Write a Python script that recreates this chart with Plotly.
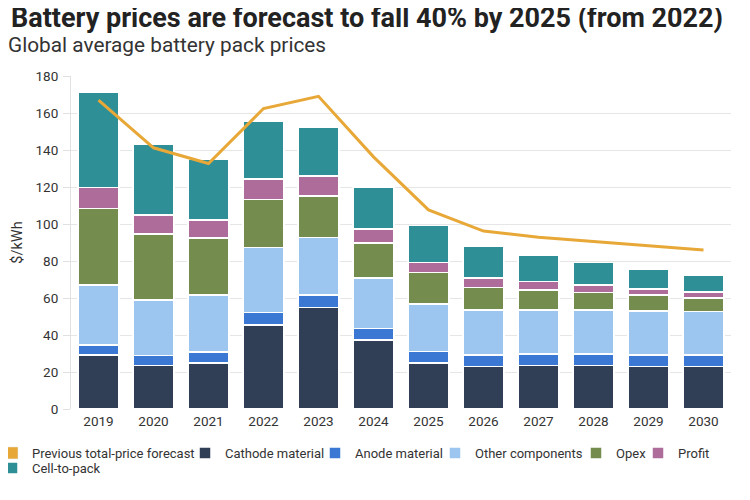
import plotly.graph_objects as go

years = ["2019", "2020", "2021", "2022", "2023", "2024", "2025", "2026", "2027", "2028", "2029", "2030"]
cathode = [29.3, 23.4, 24.8, 45.5, 54.8, 37.4, 24.8, 23.0, 23.4, 23.4, 23.0, 23.0]
anode = [5.4, 5.5, 6.0, 6.8, 6.9, 6.1, 6.3, 6.3, 6.4, 6.4, 6.3, 6.3]
other = [32.2, 30.1, 30.9, 35.1, 31.1, 27.2, 25.7, 24.3, 23.8, 23.8, 23.7, 23.4]
opex = [41.6, 35.6, 30.6, 25.9, 22.3, 18.9, 17.1, 12.2, 10.8, 9.3, 8.5, 7.4]
profit = [11.3, 10.3, 9.9, 11.0, 10.8, 7.7, 5.4, 4.9, 4.5, 4.2, 3.4, 3.2]
cell_to_pack = [51.6, 38.1, 32.9, 31.1, 26.3, 22.8, 19.8, 17.1, 14.4, 12.2, 10.8, 9.2]
previous_forecast = [166.9, 141.2, 132.7, 162.4, 169.0, 136.3, 107.6, 96.2, 92.8, 90.5, 88.3, 86.0]
y_ticks = [0, 20, 40, 60, 80, 100, 120, 140, 160, 180]

FONT = "Roboto"
ORANGE = "#e8a838"

fig = go.Figure()

# legend-only entry for the line (square swatch as in the reference)
fig.add_trace(go.Bar(x=[years[0]], y=[None], name="Previous total-price forecast",
                     marker=dict(color=ORANGE), legendwidth=148, legend="legend"))

series = [
    ("Cathode material", cathode, "#303f56", 85, "legend"),
    ("Anode material", anode, "#3a78d4", 75, "legend"),
    ("Other components", other, "#9cc5ef", 96, "legend"),
    ("Opex", opex, "#748c4e", 17, "legend"),
    ("Profit", profit, "#ad6c99", 34, "legend"),
    ("Cell-to-pack", cell_to_pack, "#2e8f96", 80, "legend2"),
]
for name, vals, col, lw, lg in series:
    fig.add_trace(go.Bar(x=years, y=vals, name=name, legendwidth=lw, legend=lg,
                         marker=dict(color=col, line=dict(color="white", width=1.5))))

fig.add_trace(go.Scatter(x=years, y=previous_forecast, mode="lines", name="Previous total-price forecast",
                         line=dict(color=ORANGE, width=3), showlegend=False))

# plot area in figure pixels
L, T, R, B = 63, 68, 27, 99
PW = 750.0 - L - R
PH = 500.0 - T - B
BOT = 500 - B

leg_common = dict(orientation="h", xref="paper", yref="paper", xanchor="left", yanchor="middle",
                  font=dict(family=FONT, size=13, color="#333333"),
                  itemwidth=30, traceorder="normal", itemclick=False, bgcolor="rgba(0,0,0,0)")

fig.update_layout(
    width=750, height=500,
    barmode="stack", bargap=0.25,
    plot_bgcolor="white", paper_bgcolor="white",
    font=dict(family=FONT, color="#333333", size=13),
    margin=dict(l=L, r=R, t=T, b=B, autoexpand=False),
    title=dict(text="<b>Battery prices are forecast to fall 40% by 2025 (from 2022)</b>",
               x=0.004, xanchor="left", y=0.962, yanchor="bottom",
               font=dict(family=FONT, size=27, color="#222222")),
    annotations=[dict(text="Global average battery pack prices", xref="paper", yref="paper",
                      x=(-2 - L) / PW, xanchor="left", y=(BOT - 23) / PH, yanchor="top", showarrow=False,
                      font=dict(family=FONT, size=20.8, color="#333333"))],
    legend=dict(leg_common, x=(-16 - L) / PW, y=(BOT - 445) / PH),
    legend2=dict(leg_common, x=(-16 - L) / PW, y=(BOT - 460) / PH),
    xaxis=dict(showgrid=False, ticks="", showline=False, ticklabelstandoff=2,
               tickfont=dict(size=13.5, color="#333333")),
    yaxis=dict(range=[0, 180], tickvals=y_ticks, showgrid=True, gridcolor="#e6e6e6",
               ticks="outside", ticklen=7, tickcolor="#e0e0e0", showline=True,
               linecolor="#e0e0e0", zeroline=False, ticklabelstandoff=2,
               title=dict(text="$/kWh", font=dict(size=14.5, color="#333333"), standoff=9),
               tickfont=dict(size=13.5, color="#333333")),
)

fig.write_html("out.html")
